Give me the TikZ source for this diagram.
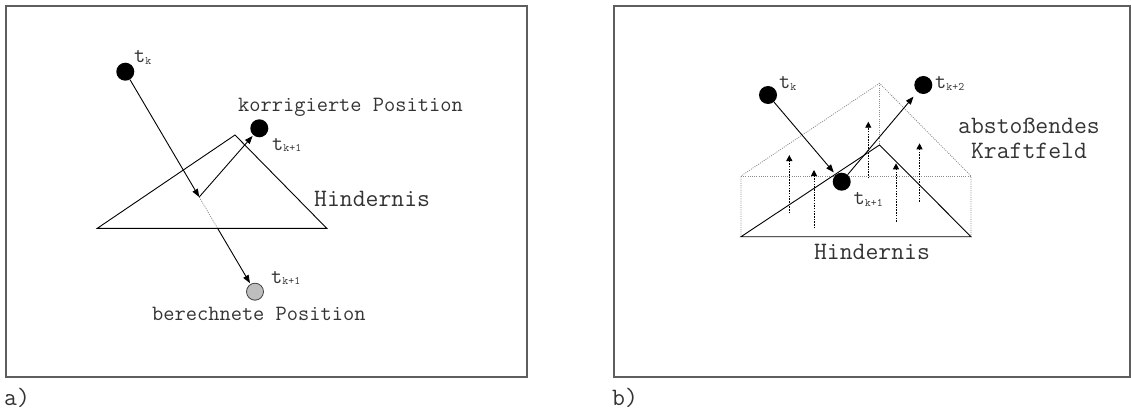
\documentclass[tikz,border=0pt]{standalone}
\usepackage{fontspec}
\usetikzlibrary{positioning, arrows.meta}
\definecolor{framec}{HTML}{5E5E5E}
\definecolor{fieldc}{HTML}{8C8C8C}
\definecolor{greydot}{HTML}{BEBEBE}
\definecolor{inkc}{HTML}{333333}
\newcommand{\LabelF}{\ttfamily\fontsize{21.8}{26}\selectfont\color{inkc}}
\newcommand{\BigF}{\ttfamily\fontsize{25}{25}\selectfont\color{inkc}}
\newcommand{\SubF}{\ttfamily\fontsize{11.5}{13}\selectfont}
\newcommand{\tsub}[1]{t\raisebox{-1.5pt}{\SubF #1}}

\begin{document}
\begin{tikzpicture}[x=1pt, y=-1pt,
    dot/.style={circle, fill=black, minimum size=18pt, inner sep=0pt},
    lbl/.style={anchor=base west, inner sep=0pt, font=\LabelF},
    big/.style={inner sep=0pt, font=\BigF},
    panel/.style={draw=framec, line width=1.2pt},
    solidln/.style={line width=0.9pt},
    motion/.style={line width=0.9pt, -{Triangle[length=8pt, width=6pt]}},
    field/.style={draw=fieldc, line width=0.8pt, dash pattern=on 1pt off 1.2pt},
    forcearr/.style={line width=0.9pt, dash pattern=on 1.5pt off 1.2pt,
                     -{Triangle[length=6pt, width=6pt]}}]
  \useasboundingbox (0,0) rectangle (1131,417);
  \draw[panel] (6,6) rectangle (527,377);
  \draw[panel] (614,6) rectangle (1130,377);

  % a)
  \draw[solidln] (97.3,228.3) -- (235,135) -- (326.7,228.3) -- cycle;
  \node[dot] (tka) at (125.3,71.7) {};
  \node[dot] (korr) at (259.3,128.3) {};
  \node[dot, fill=greydot, draw=black!75, line width=0.8pt, minimum size=17pt] (berech) at (255,291.7) {};
  \coordinate (hit) at (199.2,197);
  \coordinate (exit) at (217.6,228.3);
  \draw[motion] (tka) -- (hit);
  \draw[field] (hit) -- (exit);
  \draw[motion, shorten >=1pt] (exit) -- (berech);
  \draw[motion, shorten >=1pt] (hit) -- (korr);
  \node[lbl] (tkal) at (134,63) {\tsub{k}};
  \node[lbl] (korrl) at (272,150) {\tsub{k+1}};
  \node[lbl] (berechl) at (271,283) {\tsub{k+1}};
  \node[lbl] (korrtxt) at (238,111.5) {korrigierte Position};
  \node[lbl] (berechtxt) at (152,320.5) {berechnete Position};
  \node[big, anchor=base west] (hinda) at (314,206.5) {Hindernis};
  \node[big, anchor=base west] (taga) at (4,405) {a)};

  % b)
  \draw[field] (741,236.7) -- (741,176) -- (879.5,83.3) -- (971,176) -- (971,236.7);
  \draw[field] (741,176) -- (971,176);
  \draw[field] (879.5,83.3) -- (879.5,145);
  \draw[solidln] (741,236.7) -- (879.5,145) -- (971,236.7) -- cycle;
  \foreach \x/\ya/\yb in {789.3/213.3/155, 814/228.3/170, 868.3/178.3/121.7,
                           896/221.7/163.3, 919.5/201.7/143.3}
    \draw[forcearr] (\x,\ya) -- (\x,\yb);
  \node[dot] (tkb) at (768,95) {};
  \node[dot] (tkb1) at (841.7,181.7) {};
  \node[dot] (tkb2) at (923.3,85) {};
  \draw[motion, shorten >=3pt] (tkb) -- (tkb1);
  \draw[motion, shorten >=6pt] (tkb1) -- (tkb2);
  \node[lbl] (tkbl) at (779,89) {\tsub{k}};
  \node[lbl] (tkb2l) at (935,89) {\tsub{k+2}};
  \node[lbl] (tkb1l) at (853.5,204.5) {\tsub{k+1}};
  \node[big, align=center] (kraft) at (1029,138) {abstoßendes\\Kraftfeld};
  \node[big, anchor=base] (hindb) at (872,259.3) {Hindernis};
  \node[big, anchor=base west] (tagb) at (612,405) {b)};
\end{tikzpicture}
\end{document}
